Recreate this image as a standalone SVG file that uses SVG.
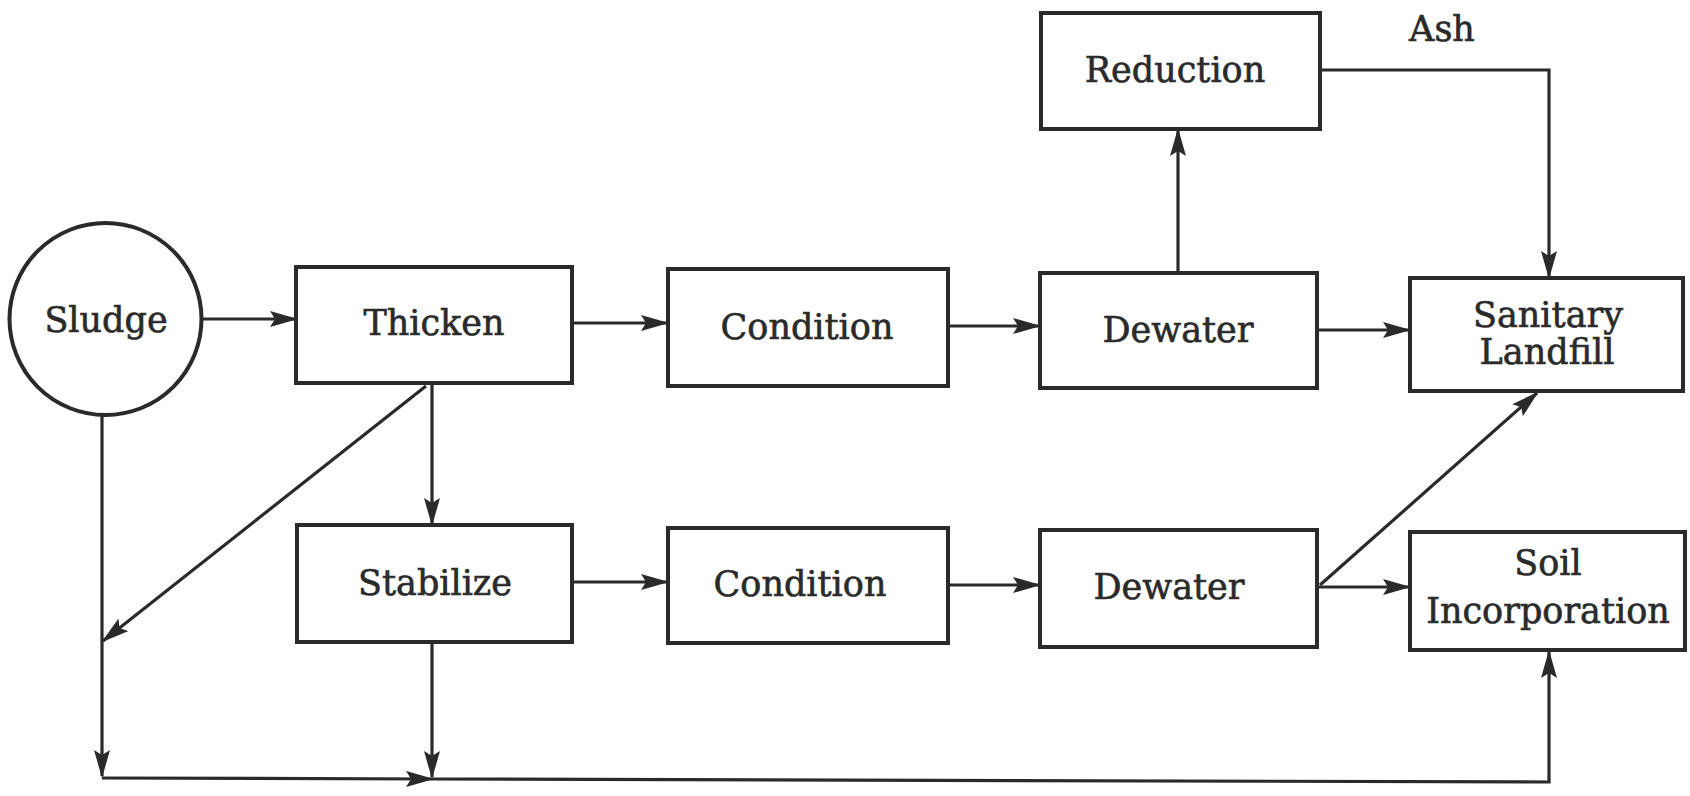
<svg xmlns="http://www.w3.org/2000/svg" width="1690" height="796" viewBox="0 0 1690 796">
<style>
.box{fill:#fff;stroke:#2a2a2a;stroke-width:4}
.lbl{font-family:"DejaVu Serif","Liberation Serif",serif;font-size:35px;fill:#2a2a2a;stroke:#2a2a2a;stroke-width:0.6;text-anchor:middle;dominant-baseline:central}
.c{fill:none;stroke:#2a2a2a;stroke-width:3.2}
</style>
<defs>
<marker id="ah" markerUnits="userSpaceOnUse" markerWidth="28" markerHeight="16" refX="26" refY="8" orient="auto">
<path d="M0,0 L28,8 L0,16 L5,8 z" fill="#2a2a2a"/>
</marker>
</defs>
<rect width="1690" height="796" fill="#fff"/>
<g id="connectors">
<path class="c" d="M202,319 L296,319" marker-end="url(#ah)"/>
<path class="c" d="M572,323 L667,323" marker-end="url(#ah)"/>
<path class="c" d="M948,326 L1039,326" marker-end="url(#ah)"/>
<path class="c" d="M1317,330 L1409,330" marker-end="url(#ah)"/>
<path class="c" d="M1178,273 L1178,130" marker-end="url(#ah)"/>
<path class="c" d="M1320,70 L1549,70 L1549,277" marker-end="url(#ah)"/>
<path class="c" d="M432,383 L432,524" marker-end="url(#ah)"/>
<path class="c" d="M426,386 L103,641" marker-end="url(#ah)"/>
<path class="c" d="M102,415 L102,776" marker-end="url(#ah)"/>
<path class="c" d="M432,642 L432,777" marker-end="url(#ah)"/>
<path class="c" d="M102,778 L432,779" marker-end="url(#ah)"/>
<path class="c" d="M432,779 L1549,782 L1549,652" marker-end="url(#ah)"/>
<path class="c" d="M572,582 L667,582" marker-end="url(#ah)"/>
<path class="c" d="M948,585 L1039,585" marker-end="url(#ah)"/>
<path class="c" d="M1317,587 L1409,587" marker-end="url(#ah)"/>
<path class="c" d="M1320,585 L1537,393" marker-end="url(#ah)"/>
</g>
<g id="sludge"><circle class="box" cx="105.5" cy="319" r="96"/><text class="lbl" x="106" y="320">Sludge</text></g>
<g id="thicken"><rect class="box" x="296" y="267" width="276" height="116"/><text class="lbl" x="434" y="323">Thicken</text></g>
<g id="condition1"><rect class="box" x="668" y="269" width="280" height="117"/><text class="lbl" x="807" y="327">Condition</text></g>
<g id="dewater1"><rect class="box" x="1040" y="273" width="277" height="115"/><text class="lbl" x="1178" y="330">Dewater</text></g>
<g id="reduction"><rect class="box" x="1041" y="13" width="279" height="116"/><text class="lbl" x="1175" y="70">Reduction</text></g>
<g id="ash"><text class="lbl" x="1442" y="29">Ash</text></g>
<g id="landfill"><rect class="box" x="1410" y="278" width="273" height="113"/><text class="lbl" x="1548" y="315">Sanitary</text><text class="lbl" x="1547" y="352">Landfill</text></g>
<g id="stabilize"><rect class="box" x="297" y="525" width="275" height="117"/><text class="lbl" x="435" y="583">Stabilize</text></g>
<g id="condition2"><rect class="box" x="668" y="528" width="280" height="115"/><text class="lbl" x="800" y="584">Condition</text></g>
<g id="dewater2"><rect class="box" x="1040" y="530" width="277" height="117"/><text class="lbl" x="1169" y="587">Dewater</text></g>
<g id="soil"><rect class="box" x="1410" y="532" width="275" height="118"/><text class="lbl" x="1548" y="563">Soil</text><text class="lbl" x="1548" y="611">Incorporation</text></g>
</svg>
